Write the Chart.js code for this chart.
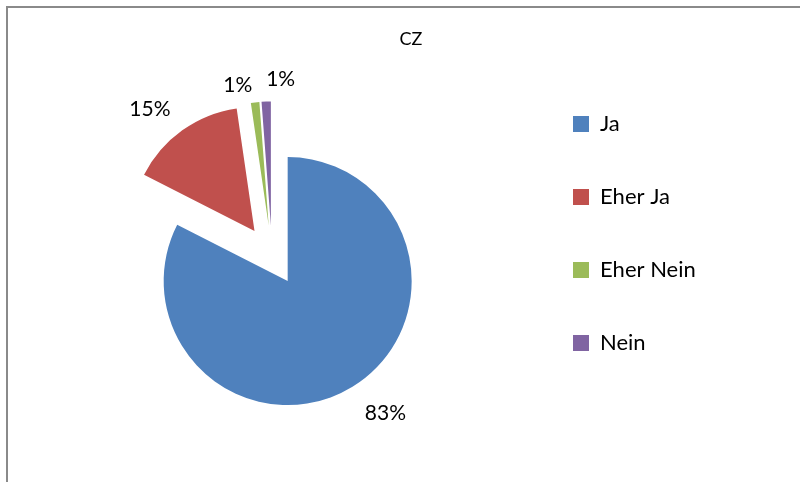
<!DOCTYPE html>
<html>
<head>
<meta charset="utf-8">
<script src="https://cdn.jsdelivr.net/npm/chart.js@4/dist/chart.umd.min.js"></script>
<style>
  html, body { margin: 0; padding: 0; background: #fff; }
  #wrap { position: relative; width: 800px; height: 482px; overflow: hidden; }
  #frame { position: absolute; left: 6px; top: 6px; width: 820px; height: 500px;
           border-left: 2px solid #8a8a8a; border-top: 2px solid #8a8a8a; }
  canvas { position: absolute; left: 0; top: 0; }
</style>
</head>
<body>
<div id="wrap">
  <div id="frame"></div>
  <canvas id="canvas" width="800" height="482"></canvas>
</div>
<script>
const title = "CZ";
const categories = ["Ja", "Eher Ja", "Eher Nein", "Nein"];
const values = [82.5, 15.2, 1.1, 1.2];
const colors = ["#4F81BD", "#C0504D", "#9BBB59", "#8064A2"];

// look
const EXPLODE = 30;
const LABEL_GAP = 40;
const labelNudge = [[12, -8], [-9, 11], [-13, 23], [16, 18]];
const FONT = "Lato";
const legendSize = 22;
const legendPad = 51;
const legendBox = 16;

// size the right padding so the legend sits at x = 573
const mctx = document.createElement("canvas").getContext("2d");
mctx.font = legendSize + "px " + FONT;
const tw = Math.max(...categories.map(c => mctx.measureText(c).width));
const rightPad = 800 - 522 - (legendPad + legendBox + legendSize / 2 + tw + 10);

const explodePlugin = {
  id: "explode",
  beforeDatasetDraw(chart, args) {
    const ctx = chart.ctx;
    args.meta.data.forEach(arc => {
      const mid = (arc.startAngle + arc.endAngle) / 2;
      ctx.save();
      ctx.translate(Math.cos(mid) * EXPLODE, Math.sin(mid) * EXPLODE);
      arc.draw(ctx);
      ctx.restore();
    });
    return false;
  },
  afterDatasetsDraw(chart) {
    const ctx = chart.ctx;
    const meta = chart.getDatasetMeta(0);
    const total = values.reduce((a, b) => a + b, 0);
    ctx.save();
    ctx.font = "21px " + FONT;
    ctx.fillStyle = "#000";
    ctx.textAlign = "center";
    ctx.textBaseline = "middle";
    meta.data.forEach((arc, i) => {
      const mid = (arc.startAngle + arc.endAngle) / 2;
      const r = arc.outerRadius + EXPLODE + LABEL_GAP;
      const x = arc.x + Math.cos(mid) * r + labelNudge[i][0];
      const y = arc.y + Math.sin(mid) * r + labelNudge[i][1];
      ctx.fillText(Math.round(values[i] / total * 100) + "%", x, y);
    });
    ctx.restore();
  },
  afterDraw(chart) {
    const ctx = chart.ctx;
    ctx.save();
    ctx.font = "18px " + FONT;
    ctx.fillStyle = "#000";
    ctx.textAlign = "center";
    ctx.textBaseline = "middle";
    ctx.fillText(title, 411, 39);
    ctx.restore();
  }
};

new Chart("canvas", {
  type: "pie",
  data: {
    labels: categories,
    datasets: [
      {
        data: values,
        backgroundColor: colors,
        borderWidth: 0,
        radius: 124,
      },
    ],
  },
  options: {
    responsive: false,
    animation: false,
    layout: {
      padding: { left: 22, right: rightPad, top: 62, bottom: 33 },
    },
    plugins: {
      legend: {
        position: "right",
        align: "start",
        labels: {
          color: "#000",
          boxWidth: legendBox,
          boxHeight: legendBox,
          padding: legendPad,
          font: { family: FONT, size: legendSize },
        },
      },
      tooltip: { enabled: false },
    },
  },
  plugins: [explodePlugin],
});
</script>
</body>
</html>
